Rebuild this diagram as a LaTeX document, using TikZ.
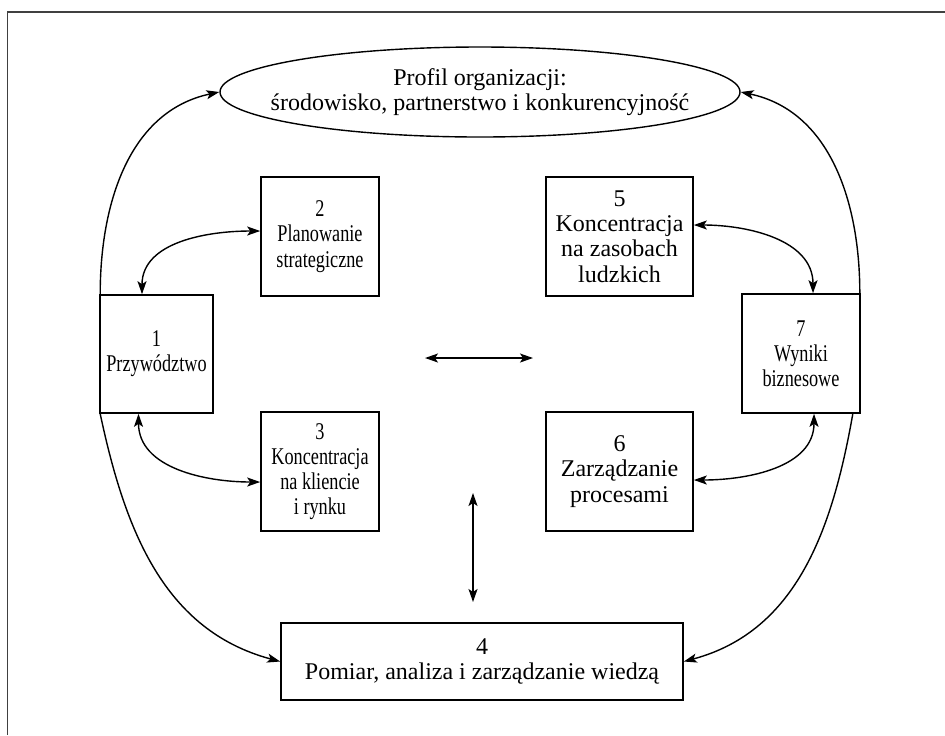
\documentclass[tikz,border=0pt]{standalone}
\usepackage{fontspec}
\setmainfont{Liberation Serif}
\newfontfamily\narrowfont[FakeStretch=0.76]{Liberation Serif}
\usetikzlibrary{shapes.geometric, arrows.meta, positioning, calc}

\begin{document}
\begin{tikzpicture}[x=0.5pt, y=-0.5pt, >={Stealth[length=6.5pt, width=4.5pt, inset=1.5pt]},
    box/.style={rectangle, draw, line width=0.8pt, align=center, inner sep=2pt,
                font=\fontsize{12}{12.6}\selectfont},
    nbox/.style={box, font=\narrowfont\fontsize{12}{12.6}\selectfont},
    conn/.style={line width=0.7pt}]
    \useasboundingbox (0,0) rectangle (945,735);
    % frame
    \draw[line width=0.8pt, black!75] (7.5,735) |- (945,12);

    \node[ellipse, draw, line width=0.7pt, inner xsep=-16pt, inner ysep=2pt,
          minimum width=260pt, minimum height=45pt,
          align=center, font=\fontsize{12}{12.6}\selectfont] (prof) at (480,92)
          {Profil organizacji:\\ środowisko, partnerstwo i konkurencyjność};

    \node[nbox, minimum width=56.5pt, minimum height=59pt] (b1) at (156.5,354) {1\\ Przywództwo};
    \node[nbox, minimum width=59pt, minimum height=59.5pt] (b2) at (320,236.5) {2\\ Planowanie\\ strategiczne};
    \node[nbox, minimum width=59pt, minimum height=59.5pt] (b3) at (320,471.5) {3\\ Koncentracja\\ na kliencie\\ i rynku};
    \node[box, minimum width=201pt, minimum height=38.5pt] (b4) at (482,661.5) {4\\ Pomiar, analiza i zarządzanie wiedzą};
    \node[box, minimum width=73.5pt, minimum height=59.5pt] (b5) at (619.5,236.5) {5\\ Koncentracja\\ na zasobach\\ ludzkich};
    \node[box, minimum width=73.5pt, minimum height=59.5pt] (b6) at (619.5,471.5) {6\\ Zarządzanie\\ procesami};
    \node[nbox, minimum width=59pt, minimum height=59.5pt] (b7) at (801,353.5) {7\\ Wyniki\\ biznesowe};

    % free arrows in the middle
    \coordinate (hl) at (425,358);
    \coordinate (hr) at (533,358);
    \coordinate (vt) at (473,493);
    \coordinate (vb) at (473,602);
    \draw[conn, <->] (hl) -- (hr);
    \draw[conn, <->] (vt) -- (vb);

    % outer loop
    \draw[conn, ->] ([xshift=0.5pt]b1.north west) to[out=90, in=192] (prof.west);
    \draw[conn, ->] ([xshift=-0.5pt]b7.north east) to[out=90, in=-12] (prof.east);
    \draw[conn, ->] ([xshift=0.5pt]b1.south west) to[out=-78, in=165] (b4.west);
    \draw[conn, ->] ([xshift=-4pt]b7.south east) to[out=-100, in=15] (b4.east);

    % inner links
    \draw[conn, <->] ([xshift=-7.25pt]b1.north) to[out=90, in=180] ([yshift=2.75pt]b2.west);
    \draw[conn, <->] ([xshift=-9pt]b1.south) to[out=-90, in=180] ([yshift=-5.25pt]b3.west);
    \draw[conn, <->] ([yshift=5.75pt]b5.east) to[out=0, in=90] ([xshift=6pt]b7.north);
    \draw[conn, <->] ([yshift=-4.25pt]b6.east) to[out=0, in=-90] ([xshift=6.5pt]b7.south);
\end{tikzpicture}
\end{document}
